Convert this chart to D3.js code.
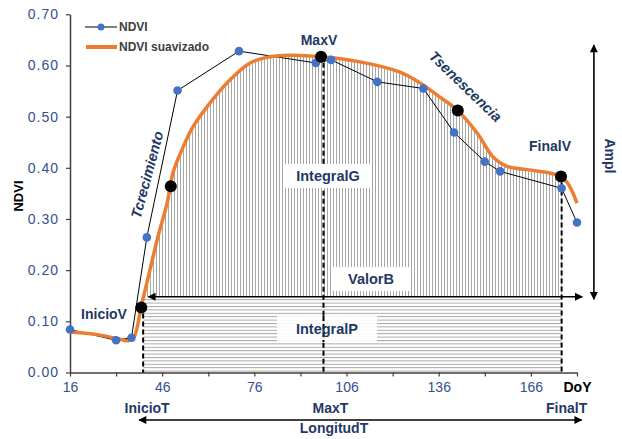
<!DOCTYPE html>
<html>
<head>
<meta charset="utf-8">
<script src="https://cdn.jsdelivr.net/npm/d3@7"></script>
<style>
  body { margin: 0; background: #fff; }
  text { font-family: "Liberation Sans", Arial, sans-serif; }
</style>
</head>
<body>
<div id="container"></div>
<script>
/**
 * DATA
 * */
const ndviDays = [16, 31, 36, 41, 51, 71, 96, 101, 116, 131, 141, 151, 156, 176, 181];
const ndviVals = [0.084, 0.063, 0.068, 0.264, 0.551, 0.628, 0.605, 0.611, 0.568, 0.555, 0.469, 0.412, 0.393, 0.360, 0.293];

const smoothDays = [16, 25.8, 32.3, 34.9, 36.8, 39.2, 42, 44.6, 47.6, 49.5, 52.4, 56, 61.6, 68.1, 74.6, 81.1, 87.6, 97.7, 110.4, 123.4, 129.9, 136.4, 142, 148.5, 153.7, 158.2, 166.7, 174.5, 177.7, 181];
const smoothVals = [0.079, 0.073, 0.065, 0.062, 0.069, 0.13, 0.2, 0.265, 0.331, 0.39, 0.435, 0.48, 0.527, 0.572, 0.605, 0.617, 0.62, 0.617, 0.607, 0.587, 0.566, 0.538, 0.513, 0.468, 0.421, 0.403, 0.395, 0.386, 0.372, 0.331];

const markerNames = ["InicioV", "Tcrecimiento", "MaxV", "Tsenescencia", "FinalV"];
const markerDays = [39.2, 48.8, 97.7, 142.2, 175.8];
const markerVals = [0.127, 0.364, 0.617, 0.512, 0.383];

const timeNames = ["InicioT", "MaxT", "FinalT"];
const timeDays = [39.8, 98.5, 176];
const timeVals = [0.127, 0.617, 0.383];

const valorB = 0.148;
const xTicks = d3.range(16, 182, 15);
const yTicks = [0, 0.1, 0.2, 0.3, 0.4, 0.5, 0.6, 0.7];

/**
 * CONSTANTS
 * */
const width = 622,
  height = 439;
const navy = "#1f3864",
  tickBlue = "#34508f",
  orange = "#ed7d31",
  dotBlue = "#4472c4";

const x = d3.scaleLinear().domain([16, 181]).range([70, 577]);
const y = d3.scaleLinear().domain([0, 0.7]).range([372.5, 14.3]);

const svg = d3
  .select("#container")
  .append("svg")
  .attr("width", width)
  .attr("height", height);

const defs = svg.append("defs");

// hatch patterns
const vPat = defs.append("pattern")
  .attr("id", "vhatch").attr("patternUnits", "userSpaceOnUse")
  .attr("width", 3).attr("height", 10);
vPat.append("line").attr("x1", 0.5).attr("x2", 0.5).attr("y1", 0).attr("y2", 10)
  .attr("stroke", "#a6a6a6").attr("stroke-width", 1);

const hPat = defs.append("pattern")
  .attr("id", "hhatch").attr("patternUnits", "userSpaceOnUse")
  .attr("width", 10).attr("height", 3.4);
hPat.append("line").attr("x1", 0).attr("x2", 10).attr("y1", 0.5).attr("y2", 0.5)
  .attr("stroke", "#a6a6a6").attr("stroke-width", 1);

// arrow heads
defs.append("marker")
  .attr("id", "arrow").attr("viewBox", "0 0 10 10")
  .attr("refX", 9).attr("refY", 5)
  .attr("markerWidth", 9).attr("markerHeight", 8)
  .attr("markerUnits", "userSpaceOnUse")
  .attr("orient", "auto-start-reverse")
  .append("path").attr("d", "M0,0 L10,5 L0,10 Z").attr("fill", "#000");

const smooth = smoothDays.map((d, i) => ({ day: d, v: smoothVals[i] }));
const ndvi = ndviDays.map((d, i) => ({ day: d, v: ndviVals[i] }));

// clip for the IntegralG hatch: between InicioT and FinalT, above ValorB
defs.append("clipPath").attr("id", "clipG")
  .append("rect")
  .attr("x", x(timeDays[0])).attr("y", 0)
  .attr("width", x(timeDays[2]) - x(timeDays[0]))
  .attr("height", y(valorB));

const curve = d3.curveCatmullRom.alpha(0.5);

svg.append("path")
  .datum(smooth)
  .attr("clip-path", "url(#clipG)")
  .attr("fill", "url(#vhatch)")
  .attr("d", d3.area().x(d => x(d.day)).y0(y(valorB)).y1(d => y(d.v)).curve(curve));

// IntegralP hatch
svg.append("rect")
  .attr("x", x(timeDays[0])).attr("y", y(valorB))
  .attr("width", x(timeDays[2]) - x(timeDays[0]))
  .attr("height", y(0) - y(valorB))
  .attr("fill", "url(#hhatch)");

// axes
const xAxis = svg.append("g")
  .attr("transform", `translate(0,${y(0)})`)
  .call(d3.axisBottom(x).tickValues(xTicks).tickSize(4).tickSizeOuter(0).tickPadding(6)
    .tickFormat(d => d === 181 ? "DoY" : ((d - 16) % 30 === 0 ? d : "")));
xAxis.select(".domain").attr("stroke", "#404040").attr("stroke-width", 1.5);
xAxis.selectAll(".tick line").attr("stroke", "#404040").attr("stroke-width", 1.2);
xAxis.selectAll(".tick text")
  .attr("font-size", 14).attr("fill", tickBlue)
  .attr("font-family", "Liberation Sans, Arial, sans-serif");
xAxis.selectAll(".tick text").filter(d => d === 181)
  .attr("fill", "#000").attr("font-weight", "bold").attr("dx", 0);

const yAxis = svg.append("g")
  .attr("transform", `translate(${x(16)},0)`)
  .call(d3.axisLeft(y).tickValues(yTicks).tickSize(4).tickSizeOuter(0).tickPadding(7)
    .tickFormat(d3.format(".2f")));
yAxis.select(".domain").attr("stroke", "#404040").attr("stroke-width", 1.5);
yAxis.selectAll(".tick line").attr("stroke", "#404040").attr("stroke-width", 1.2);
yAxis.selectAll(".tick text")
  .attr("font-size", 14).attr("fill", tickBlue).attr("letter-spacing", 1)
  .attr("font-family", "Liberation Sans, Arial, sans-serif");

svg.append("text")
  .attr("transform", `translate(23,196) rotate(-90)`)
  .attr("text-anchor", "middle")
  .attr("font-size", 13).attr("font-weight", "bold").attr("fill", "#000")
  .text("NDVI");

// dashed time lines
svg.selectAll(".tline")
  .data(timeDays)
  .join("line")
  .attr("class", "tline")
  .attr("x1", d => x(d)).attr("x2", d => x(d))
  .attr("y1", (d, i) => y(timeVals[i]) + 6).attr("y2", y(0))
  .attr("stroke", "#000").attr("stroke-width", 2)
  .attr("stroke-dasharray", "5,3");

// labels on white boxes
function boxLabel(txt, cx, cy, bw, bh) {
  svg.append("rect")
    .attr("x", cx - bw / 2).attr("y", cy - bh / 2)
    .attr("width", bw).attr("height", bh).attr("fill", "#fff");
  svg.append("text")
    .attr("x", cx).attr("y", cy + 5)
    .attr("text-anchor", "middle")
    .attr("font-size", 14.5).attr("font-weight", "bold").attr("fill", navy)
    .text(txt);
}
boxLabel("IntegralG", 328, 176, 86, 24);
boxLabel("ValorB", 371, 279, 76, 24);

// IntegralP box sits below the MaxT dashed line
svg.append("rect")
  .attr("x", 277).attr("y", 316).attr("width", 100).attr("height", 26)
  .attr("fill", "#fff").attr("fill-opacity", 0.9);
svg.append("line")
  .attr("x1", x(timeDays[1])).attr("x2", x(timeDays[1]))
  .attr("y1", 316).attr("y2", 342)
  .attr("stroke", "#000").attr("stroke-width", 2).attr("stroke-dasharray", "5,3");
svg.append("text")
  .attr("x", 327).attr("y", 334)
  .attr("text-anchor", "middle")
  .attr("font-size", 14.5).attr("font-weight", "bold").attr("fill", navy)
  .text("IntegralP");

// ValorB arrow
svg.append("line")
  .attr("x1", x(41.5)).attr("x2", x(182.7))
  .attr("y1", y(valorB)).attr("y2", y(valorB))
  .attr("stroke", "#000").attr("stroke-width", 1.6)
  .attr("marker-start", "url(#arrow)").attr("marker-end", "url(#arrow)");

// Ampl arrow
svg.append("line")
  .attr("x1", x(186.5)).attr("x2", x(186.5))
  .attr("y1", y(0.64)).attr("y2", y(0.143))
  .attr("stroke", "#000").attr("stroke-width", 1.6)
  .attr("marker-start", "url(#arrow)").attr("marker-end", "url(#arrow)");
svg.append("text")
  .attr("transform", `translate(605,156) rotate(90)`)
  .attr("text-anchor", "middle")
  .attr("font-size", 14).attr("font-weight", "bold").attr("fill", navy)
  .text("Ampl");

// LongitudT arrow
svg.append("line")
  .attr("x1", x(38.5)).attr("x2", x(182.5))
  .attr("y1", 420).attr("y2", 420)
  .attr("stroke", "#000").attr("stroke-width", 1.6)
  .attr("marker-start", "url(#arrow)").attr("marker-end", "url(#arrow)");

// NDVI raw line
svg.append("path")
  .datum(ndvi)
  .attr("fill", "none").attr("stroke", "#000").attr("stroke-width", 1)
  .attr("d", d3.line().x(d => x(d.day)).y(d => y(d.v)));

// smoothed line
svg.append("path")
  .datum(smooth)
  .attr("fill", "none").attr("stroke", orange).attr("stroke-width", 3.5)
  .attr("stroke-linejoin", "round")
  .attr("d", d3.line().x(d => x(d.day)).y(d => y(d.v)).curve(curve));

svg.selectAll(".ndvi-dot")
  .data(ndvi)
  .join("circle")
  .attr("class", "ndvi-dot")
  .attr("cx", d => x(d.day)).attr("cy", d => y(d.v))
  .attr("r", 4.3).attr("fill", dotBlue);

svg.selectAll(".marker")
  .data(markerDays)
  .join("circle")
  .attr("class", "marker")
  .attr("cx", d => x(d)).attr("cy", (d, i) => y(markerVals[i]))
  .attr("r", 6).attr("fill", "#000");

// text labels
const bold = (txt, px, py, extra) => {
  const t = svg.append("text")
    .attr("x", px).attr("y", py)
    .attr("text-anchor", "middle")
    .attr("font-size", 14).attr("font-weight", "bold").attr("fill", navy)
    .text(txt);
  if (extra) extra(t);
  return t;
};
bold(markerNames[0], 104, 319);
bold(markerNames[2], 319, 45);
bold(markerNames[4], 550, 151);
bold(timeNames[0], x(timeDays[0]) + 4, 413);
bold(timeNames[1], x(timeDays[1]) + 7, 413);
bold(timeNames[2], x(timeDays[2]) + 5, 413);
bold("LongitudT", 334, 433);

svg.append("text")
  .attr("transform", "translate(152,176) rotate(-75)")
  .attr("text-anchor", "middle")
  .attr("font-size", 14.5).attr("font-weight", "bold").attr("font-style", "italic")
  .attr("fill", navy)
  .text(markerNames[1]);

svg.append("text")
  .attr("transform", "translate(462,90) rotate(44)")
  .attr("text-anchor", "middle")
  .attr("font-size", 14.5).attr("font-weight", "bold").attr("font-style", "italic")
  .attr("fill", navy)
  .text(markerNames[3]);

// legend
const legend = svg.append("g");
legend.append("line").attr("x1", 85).attr("x2", 117).attr("y1", 27).attr("y2", 27)
  .attr("stroke", "#000").attr("stroke-width", 1);
legend.append("circle").attr("cx", 101).attr("cy", 27).attr("r", 3.5).attr("fill", dotBlue);
legend.append("text").attr("x", 119).attr("y", 31)
  .attr("font-size", 12).attr("font-weight", "bold").attr("fill", "#404040").text("NDVI");
legend.append("line").attr("x1", 86).attr("x2", 117).attr("y1", 47).attr("y2", 47)
  .attr("stroke", orange).attr("stroke-width", 4);
legend.append("text").attr("x", 119).attr("y", 51)
  .attr("font-size", 12).attr("font-weight", "bold").attr("fill", "#404040").text("NDVI suavizado");
</script>
</body>
</html>
